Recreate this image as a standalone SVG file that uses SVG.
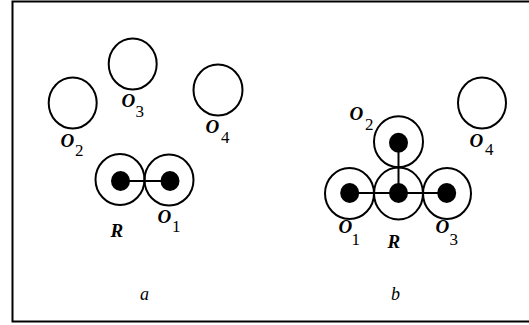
<svg xmlns="http://www.w3.org/2000/svg" width="529" height="325" viewBox="0 0 529 325">
<style>
.c{fill:none;stroke:#000;stroke-width:2}
.d{fill:#000}
.l{stroke:#000;stroke-width:2}
.o{font-family:"Liberation Serif",serif;font-size:19px;font-weight:bold;font-style:italic;fill:#000}
.s{font-family:"Liberation Serif",serif;font-size:17px;fill:#000}
.p{font-family:"Liberation Serif",serif;font-size:18px;font-style:italic;fill:#000;text-anchor:middle}
</style>
<rect x="0" y="0" width="529" height="325" fill="#fff"/>
<rect x="12.5" y="1.5" width="530" height="320" fill="none" stroke="#000" stroke-width="2"/>
<g id="connectors">
<line class="l" x1="120" y1="181" x2="169" y2="181"/>
<line class="l" x1="349.5" y1="193" x2="447" y2="193"/>
<line class="l" x1="398.5" y1="142.5" x2="398.5" y2="193"/>
</g>
<g id="a-O3"><ellipse class="c" cx="132.7" cy="64" rx="24" ry="25.5"/><text class="o" x="121.5" y="107">O</text><text class="s" x="135.5" y="117">3</text></g>
<g id="a-O2"><ellipse class="c" cx="72.7" cy="103" rx="24" ry="25.5"/><text class="o" x="60.5" y="147">O</text><text class="s" x="75" y="156">2</text></g>
<g id="a-O4"><ellipse class="c" cx="218" cy="90" rx="24.5" ry="25.5"/><text class="o" x="205.5" y="133">O</text><text class="s" x="221" y="143">4</text></g>
<g id="a-R"><ellipse class="c" cx="120" cy="179.5" rx="24.5" ry="25.5"/><ellipse class="d" cx="120.5" cy="181" rx="9.5" ry="10"/><text class="o" x="110.5" y="237">R</text></g>
<g id="a-O1"><ellipse class="c" cx="169" cy="180" rx="24.5" ry="25.5"/><ellipse class="d" cx="170" cy="181" rx="9.5" ry="10"/><text class="o" x="157.5" y="223">O</text><text class="s" x="172" y="232">1</text></g>
<text class="p" x="144.5" y="300">a</text>
<g id="b-O4"><ellipse class="c" cx="482" cy="103" rx="24" ry="25.5"/><text class="o" x="469.5" y="147">O</text><text class="s" x="485" y="155">4</text></g>
<g id="b-O2"><ellipse class="c" cx="398.5" cy="141.7" rx="24.5" ry="25.5"/><ellipse class="d" cx="398.5" cy="142.7" rx="9.5" ry="10"/><text class="o" x="349.5" y="120">O</text><text class="s" x="365" y="130">2</text></g>
<g id="b-R"><ellipse class="c" cx="398.5" cy="193.5" rx="24.5" ry="26"/><ellipse class="d" cx="398.5" cy="193" rx="9.5" ry="10"/><text class="o" x="387.5" y="248">R</text></g>
<g id="b-O1"><ellipse class="c" cx="349.5" cy="193.5" rx="24.5" ry="25.5"/><ellipse class="d" cx="349.7" cy="193" rx="9.5" ry="10"/><text class="o" x="338.5" y="233">O</text><text class="s" x="351.5" y="245">1</text></g>
<g id="b-O3"><ellipse class="c" cx="447" cy="193.5" rx="24" ry="25.5"/><ellipse class="d" cx="446.7" cy="193" rx="9.5" ry="10"/><text class="o" x="435.5" y="233">O</text><text class="s" x="449.5" y="245">3</text></g>
<text class="p" x="395.5" y="300">b</text>
</svg>
